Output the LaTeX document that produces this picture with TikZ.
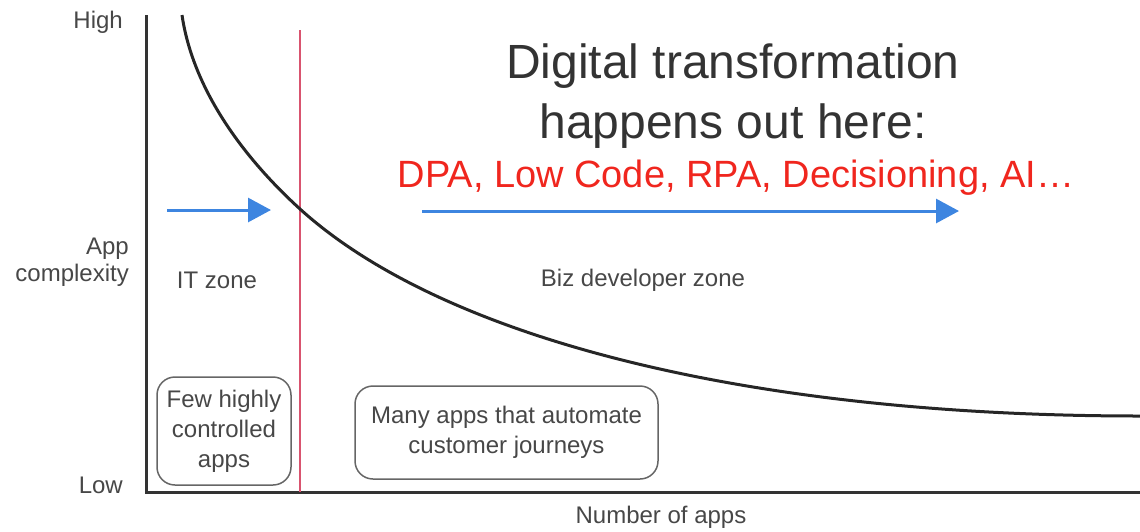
\documentclass[tikz,border=0pt]{standalone}
\usepackage{fontspec}
\setmainfont{Liberation Sans}
\usetikzlibrary{arrows.meta}
\definecolor{txt}{HTML}{474747}
\definecolor{ttl}{HTML}{333333}
\definecolor{redl}{HTML}{D9536F}
\definecolor{bluea}{HTML}{3D85E0}
\definecolor{redt}{HTML}{F0261E}
\tikzset{
  lbl/.style={text=txt, font=\fontsize{24}{27}\selectfont, inner sep=0pt},
  axisline/.style={draw=ttl, line width=3pt},
  curveline/.style={draw=black!85, line width=3pt},
  bluearrow/.style={draw=bluea, line width=3pt, -{Triangle[length=23pt,width=24pt]}},
  appbox/.style={draw=gray!80!black, line width=1.5pt, rounded corners=18pt, text=txt,
     font=\fontsize{24}{30}\selectfont, align=center, inner sep=0pt}
}
\begin{document}
\begin{tikzpicture}[x=1pt,y=-1pt]
\useasboundingbox (0,0) rectangle (1140,531);
% axes
\coordinate (otop) at (146,15);
\coordinate (orig) at (146,492);
\coordinate (xend) at (1140,492);
\draw[axisline] (otop) -- (orig) -- (xend);
% red divider
\coordinate (rtop) at (300,30);
\coordinate (rbot) at (300,492);
\draw[draw=redl, line width=2.8pt] (rtop) -- (rbot);
% curve
\coordinate (c0) at (182,15);
\coordinate (c1) at (300,209);
\coordinate (c2) at (1140,416);
\draw[curveline] (c0) .. controls (193,90) and (244,158) .. (c1)
   .. controls (440,336) and (740,416) .. (c2);
% axis labels
\node[lbl, anchor=east] (high) at (123,22) {High};
\node[lbl, anchor=east] (low) at (123,485) {Low};
\node[lbl, anchor=east, align=right] (appc) at (129,262) {App\\complexity};
\node[lbl] (xlab) at (661,517) {Number of apps};
\node[lbl] (itz) at (217,280) {IT zone};
\node[lbl] (biz) at (643,280) {Biz developer zone};
% title
\node[text=ttl, font=\fontsize{48}{60}\selectfont, align=center, inner sep=0pt] (title) at (733,96) {Digital transformation\\happens out here:};
\node[text=redt, font=\fontsize{38}{46}\selectfont, inner sep=0pt] (tech) at (736,178) {DPA, Low Code, RPA, Decisioning, AI…};
% arrows
\coordinate (a1s) at (167,210);
\coordinate (a1e) at (271,210);
\draw[bluearrow] (a1s) -- (a1e);
\coordinate (a2s) at (422,211);
\coordinate (a2e) at (959,211);
\draw[bluearrow] (a2s) -- (a2e);
% boxes
\node[appbox, minimum width=134pt, minimum height=108pt] (few) at (224,431) {Few highly\\controlled\\apps};
\node[appbox, minimum width=303pt, minimum height=93pt] (many) at (506.5,432.5) {Many apps that automate\\customer journeys};
\end{tikzpicture}
\end{document}
